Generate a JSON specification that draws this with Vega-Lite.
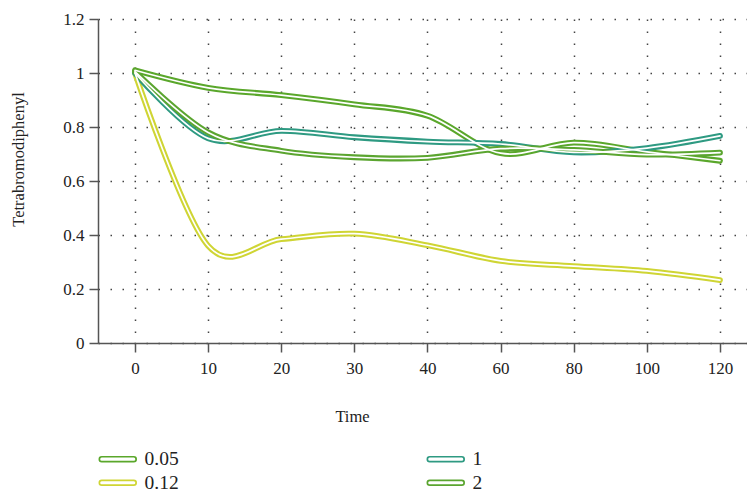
{
  "$schema": "https://vega.github.io/schema/vega-lite/v6.json",
  "width": 649,
  "height": 324,
  "autosize": {"type": "none"},
  "padding": {"left": 98, "top": 19, "right": 0, "bottom": 148},
  "background": "white",
  "config": {
    "view": {"stroke": null},
    "font": "Liberation Serif",
    "axis": {
      "labelFont": "Liberation Serif",
      "labelFontSize": 17,
      "labelColor": "#222",
      "titleFont": "Liberation Serif",
      "titleFontSize": 16.5,
      "titleFontWeight": "normal",
      "titleColor": "#222",
      "domainColor": "#555",
      "domainWidth": 1.5,
      "tickColor": "#555",
      "tickWidth": 1.5,
      "tickSize": 9,
      "grid": true,
      "gridColor": "#444",
      "gridWidth": 1.5,
      "gridDash": [1.5, 10.5]
    }
  },
  "data": {
    "values": [
      {"t": 0, "v": 1.01, "c": "0.05"},
      {"t": 10, "v": 0.945, "c": "0.05"},
      {"t": 20, "v": 0.918, "c": "0.05"},
      {"t": 30, "v": 0.884, "c": "0.05"},
      {"t": 40, "v": 0.842, "c": "0.05"},
      {"t": 60, "v": 0.703, "c": "0.05"},
      {"t": 80, "v": 0.742, "c": "0.05"},
      {"t": 100, "v": 0.708, "c": "0.05"},
      {"t": 120, "v": 0.675, "c": "0.05"},

      {"t": 0, "v": 1.0, "c": "0.12"},
      {"t": 10, "v": 0.36, "c": "0.12"},
      {"t": 20, "v": 0.385, "c": "0.12"},
      {"t": 30, "v": 0.405, "c": "0.12"},
      {"t": 40, "v": 0.362, "c": "0.12"},
      {"t": 60, "v": 0.304, "c": "0.12"},
      {"t": 80, "v": 0.285, "c": "0.12"},
      {"t": 100, "v": 0.267, "c": "0.12"},
      {"t": 120, "v": 0.233, "c": "0.12"},

      {"t": 0, "v": 1.0, "c": "1"},
      {"t": 10, "v": 0.758, "c": "1"},
      {"t": 20, "v": 0.786, "c": "1"},
      {"t": 30, "v": 0.762, "c": "1"},
      {"t": 40, "v": 0.746, "c": "1"},
      {"t": 60, "v": 0.737, "c": "1"},
      {"t": 80, "v": 0.706, "c": "1"},
      {"t": 100, "v": 0.722, "c": "1"},
      {"t": 120, "v": 0.767, "c": "1"},

      {"t": 0, "v": 1.005, "c": "2"},
      {"t": 10, "v": 0.78, "c": "2"},
      {"t": 20, "v": 0.712, "c": "2"},
      {"t": 30, "v": 0.688, "c": "2"},
      {"t": 40, "v": 0.686, "c": "2"},
      {"t": 60, "v": 0.72, "c": "2"},
      {"t": 80, "v": 0.715, "c": "2"},
      {"t": 100, "v": 0.698, "c": "2"},
      {"t": 120, "v": 0.705, "c": "2"}
    ]
  },
  "encoding": {
    "x": {
      "field": "t",
      "type": "ordinal",
      "sort": "ascending",
      "scale": {"type": "point", "padding": 0.4376, "align": 0.578},
      "axis": {
        "title": "Time",
        "labelAngle": 0,
        "labelPadding": 8,
        "titleX": 254,
        "titleY": 78,
        "titleAlign": "center",
        "titleBaseline": "alphabetic"
      }
    },
    "y": {
      "field": "v",
      "type": "quantitative",
      "scale": {"domain": [0, 1.2], "nice": false, "zero": true},
      "axis": {
        "title": "Tetrabromodiphenyl",
        "values": [0, 0.2, 0.4, 0.6, 0.8, 1.0, 1.2],
        "format": "~g",
        "labelPadding": 5,
        "titleX": -80,
        "titleY": 140,
        "titleAlign": "center",
        "titleBaseline": "middle"
      }
    }
  },
  "layer": [
    {
      "mark": {
        "type": "line",
        "interpolate": "cardinal",
        "strokeWidth": 5.8,
        "strokeCap": "round",
        "strokeJoin": "round"
      },
      "encoding": {
        "color": {
          "field": "c",
          "type": "nominal",
          "scale": {
            "domain": ["0.05", "0.12", "1", "2"],
            "range": ["#5aa72b", "#cfd534", "#2e9a82", "#5ba530"]
          },
          "legend": {
            "title": null,
            "orient": "none",
            "legendX": 10,
            "legendY": 430,
            "columns": 2,
            "values": ["0.05", "0.12", "1", "2"],
            "columnPadding": 244,
            "rowPadding": 3,
            "symbolType": "M -2 -0.3 L 2 -0.3 A 0.3 0.3 0 0 1 2 0.3 L -2 0.3 A 0.3 0.3 0 0 1 -2 -0.3 Z",
            "symbolSize": 256,
            "symbolStrokeWidth": 1.7,
            "symbolFillColor": "white",
            "labelFont": "Liberation Serif",
            "labelFontSize": 19.5,
            "labelColor": "#222",
            "labelOffset": 17,
            "encode": {
              "symbols": {
                "update": {
                  "fill": {"value": "white"},
                  "strokeWidth": {"value": 1.7}
                }
              }
            }
          }
        }
      }
    },
    {
      "mark": {
        "type": "line",
        "interpolate": "cardinal",
        "strokeWidth": 1.7,
        "strokeCap": "round",
        "strokeJoin": "round",
        "color": "white"
      },
      "encoding": {
        "detail": {"field": "c", "type": "nominal"}
      }
    }
  ]
}
